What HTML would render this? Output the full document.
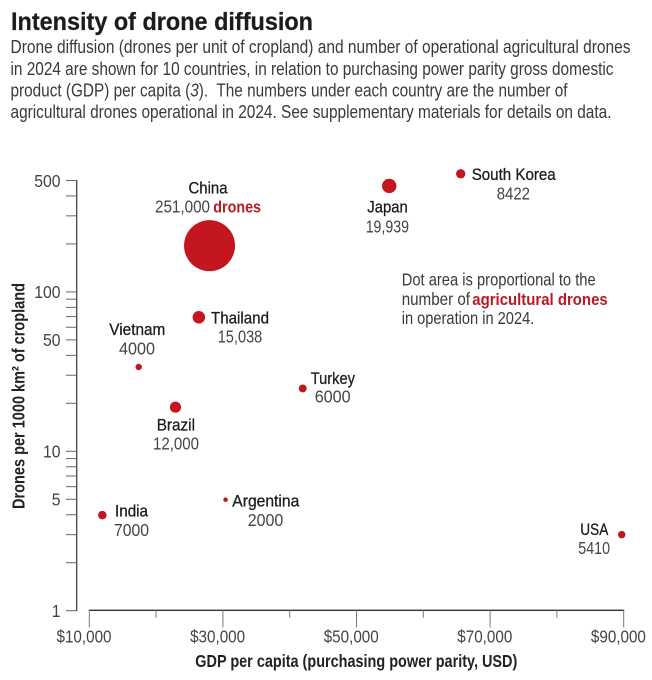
<!DOCTYPE html>
<html lang="en">
<head>
<meta charset="utf-8">
<title>Intensity of drone diffusion</title>
<style>
  html, body { margin: 0; padding: 0; background: #fff; }
  body { width: 652px; height: 680px; overflow: hidden; }
  svg { display: block; font-family: "Liberation Sans", sans-serif; }
  .title { font-size: 25px; font-weight: 700; fill: #1c1c1c; stroke: #1c1c1c; stroke-width: .25px; }
  .body { font-size: 18px; fill: #3a3a3a; }
  .country { font-size: 17px; fill: #1d1d1d; stroke: #1d1d1d; stroke-width: .3px; }
  .count { font-size: 17.5px; fill: #444; }
  .red { font-size: 17px; font-weight: 700; fill: #b91a22; }
  .note { font-size: 17.5px; fill: #3a3a3a; }
  .axis-title { font-size: 17.5px; font-weight: 700; fill: #222; }
  .tick-label { font-size: 17.5px; fill: #444; }
</style>
</head>
<body>
<svg id="chart" width="652" height="680" viewBox="0 0 652 680">
  <rect width="652" height="680" fill="#fff"/>

  <text class="title" x="11" y="30" textLength="302" lengthAdjust="spacingAndGlyphs">Intensity of drone diffusion</text>
  <text class="body" x="10.5" y="53" textLength="620" lengthAdjust="spacingAndGlyphs">Drone diffusion (drones per unit of cropland) and number of operational agricultural drones</text>
  <text class="body" x="10.5" y="75" textLength="603" lengthAdjust="spacingAndGlyphs">in 2024 are shown for 10 countries, in relation to purchasing power parity gross domestic</text>
  <text class="body" x="10.5" y="96.7" textLength="557" lengthAdjust="spacingAndGlyphs">product (GDP) per capita (<tspan font-style="italic">3</tspan>).&#160; The numbers under each country are the number of</text>
  <text class="body" x="10.5" y="118" textLength="601" lengthAdjust="spacingAndGlyphs">agricultural drones operational in 2024. See supplementary materials for details on data.</text>

  <g id="axes"></g>
  <g id="points"></g>

  <text class="axis-title" transform="translate(24.7 509) rotate(-90)" textLength="226" lengthAdjust="spacingAndGlyphs">Drones per 1000 km² of cropland</text>
  <text class="axis-title" x="195.3" y="667" textLength="322" lengthAdjust="spacingAndGlyphs">GDP per capita (purchasing power parity, USD)</text>

  <text class="country" x="188.5" y="193.3" textLength="39" lengthAdjust="spacingAndGlyphs">China</text>
  <text class="count" x="155" y="212.7" textLength="55" lengthAdjust="spacingAndGlyphs">251,000</text>
  <text class="red" x="213.3" y="212.7" textLength="47.7" lengthAdjust="spacingAndGlyphs">drones</text>

  <text class="country" x="211" y="323.3" textLength="58" lengthAdjust="spacingAndGlyphs">Thailand</text>
  <text class="count" x="217.7" y="342.3" textLength="44.6" lengthAdjust="spacingAndGlyphs">15,038</text>

  <text class="country" x="109.3" y="335" textLength="56" lengthAdjust="spacingAndGlyphs">Vietnam</text>
  <text class="count" x="119" y="354.7" textLength="36" lengthAdjust="spacingAndGlyphs">4000</text>

  <text class="country" x="156.7" y="430.7" textLength="38.3" lengthAdjust="spacingAndGlyphs">Brazil</text>
  <text class="count" x="153" y="449.3" textLength="46" lengthAdjust="spacingAndGlyphs">12,000</text>

  <text class="country" x="115" y="516.7" textLength="33" lengthAdjust="spacingAndGlyphs">India</text>
  <text class="count" x="114" y="536" textLength="35" lengthAdjust="spacingAndGlyphs">7000</text>

  <text class="country" x="232.3" y="506.7" textLength="67" lengthAdjust="spacingAndGlyphs">Argentina</text>
  <text class="count" x="247.7" y="526" textLength="35.6" lengthAdjust="spacingAndGlyphs">2000</text>

  <text class="country" x="310.7" y="384" textLength="44.3" lengthAdjust="spacingAndGlyphs">Turkey</text>
  <text class="count" x="314.7" y="402.7" textLength="36" lengthAdjust="spacingAndGlyphs">6000</text>

  <text class="country" x="367.3" y="212.7" textLength="40.4" lengthAdjust="spacingAndGlyphs">Japan</text>
  <text class="count" x="365.7" y="232.3" textLength="43.3" lengthAdjust="spacingAndGlyphs">19,939</text>

  <text class="country" x="471.7" y="180" textLength="84" lengthAdjust="spacingAndGlyphs">South Korea</text>
  <text class="count" x="496.7" y="199.3" textLength="33.3" lengthAdjust="spacingAndGlyphs">8422</text>

  <text class="country" x="580.3" y="535" textLength="28" lengthAdjust="spacingAndGlyphs">USA</text>
  <text class="count" x="578.3" y="554" textLength="31.7" lengthAdjust="spacingAndGlyphs">5410</text>

  <text class="note" x="401.7" y="285.7" textLength="194" lengthAdjust="spacingAndGlyphs">Dot area is proportional to the</text>
  <text class="note" x="401.7" y="305" textLength="68.3" lengthAdjust="spacingAndGlyphs">number of</text>
  <text class="red" x="472.3" y="305" textLength="135.4" lengthAdjust="spacingAndGlyphs">agricultural drones</text>
  <text class="note" x="401.7" y="324" textLength="132.6" lengthAdjust="spacingAndGlyphs">in operation in 2024.</text>
</svg>

<script>
const countries = ['China', 'Thailand', 'Vietnam', 'Brazil', 'India', 'Argentina', 'Turkey', 'Japan', 'South Korea', 'USA'];
const gdpPerCapita = [28000, 26400, 17400, 22900, 11950, 30400, 41950, 54900, 65600, 89700];
const dronesPerArea = [195, 69.3, 33.8, 18.9, 3.98, 4.97, 24.8, 462, 551, 3.0];
const droneCounts = [251000, 15038, 4000, 12000, 7000, 2000, 6000, 19939, 8422, 5410];

const xTickValues = [10000, 20000, 30000, 40000, 50000, 60000, 70000, 80000, 90000];
const xTickLabels = ['$10,000', '', '$30,000', '', '$50,000', '', '$70,000', '', '$90,000'];
const yTickValues = [500, 400, 300, 200, 100, 90, 80, 70, 60, 50, 40, 30, 20, 10, 9, 8, 7, 6, 5, 4, 3, 2, 1];
const yTickLabels = ['500', '', '', '', '100', '', '', '', '', '50', '', '', '', '10', '', '', '', '', '5', '', '', '', '1'];

const SVG_NS = 'http://www.w3.org/2000/svg';
const axes = document.getElementById('axes');
const points = document.getElementById('points');

function xScale(v) { return 89.3 + (v - 10000) * (623.7 - 89.3) / 80000; }
function yScale(v) { return 610.7 - Math.log10(v) * 159.4; }
function rScale(n) { return 0.0509 * Math.sqrt(n); }

function drawLine(x1, y1, x2, y2, color, width) {
  const el = document.createElementNS(SVG_NS, 'line');
  el.setAttribute('x1', x1);
  el.setAttribute('y1', y1);
  el.setAttribute('x2', x2);
  el.setAttribute('y2', y2);
  el.setAttribute('stroke', color);
  el.setAttribute('stroke-width', width);
  axes.appendChild(el);
  return el;
}

function drawTickLabel(x, y, text, anchor, squeeze) {
  const el = document.createElementNS(SVG_NS, 'text');
  el.setAttribute('class', 'tick-label');
  el.setAttribute('text-anchor', anchor);
  el.setAttribute('transform', 'translate(' + x + ' ' + y + ') scale(' + squeeze + ' 1)');
  el.textContent = text;
  axes.appendChild(el);
  return el;
}

const yAxisLine = drawLine(76.7, yScale(500) - 0.6, 76.7, yScale(1) + 0.6, '#444', 1.3);



const xAxisLine = drawLine(xScale(10000) - 0.5, 610.3, xScale(90000) + 0.5, 610.3, '#333', 1.3);



yTickValues.forEach(function (v, i) {
  const tick = drawLine(66, yScale(v), 76.7, yScale(v), '#666', 1);
  
  
  if (yTickLabels[i]) {
    const label = drawTickLabel(60.5, yScale(v) + 6.3, yTickLabels[i], 'end', 0.9);
    
    
  }
});

xTickValues.forEach(function (v, i) {
  const major = Boolean(xTickLabels[i]);
  const tick = drawLine(xScale(v), 610.3, xScale(v), major ? 627.5 : 617.7, '#777', 1);
  
  
  if (major) {
    const label = drawTickLabel(xScale(v) - 5.3, 642.5, xTickLabels[i], 'middle', 0.87);
    
    
  }
});

countries.forEach(function (name, i) {
  const dot = document.createElementNS(SVG_NS, 'circle');
  dot.setAttribute('cx', xScale(gdpPerCapita[i]));
  dot.setAttribute('cy', yScale(dronesPerArea[i]));
  dot.setAttribute('r', rScale(droneCounts[i]));
  dot.setAttribute('fill', '#c4161f');
  
  
  points.appendChild(dot);
});
</script>
</body>
</html>
